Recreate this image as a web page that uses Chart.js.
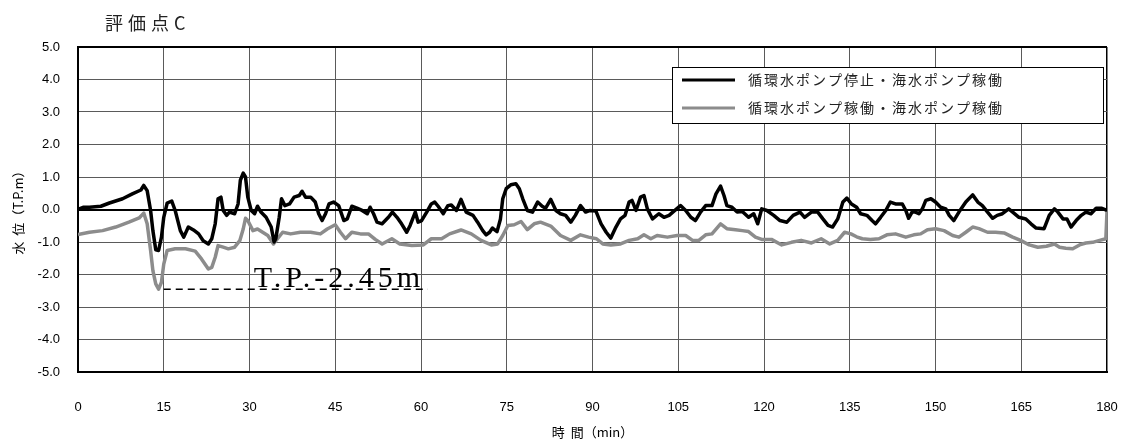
<!DOCTYPE html>
<html>
<head>
<meta charset="utf-8">
<script src="https://cdn.jsdelivr.net/npm/chart.js@4.4.1/dist/chart.umd.min.js"></script>
<style>
  html, body { margin: 0; padding: 0; background: #fff; }
  #wrap { width: 1129px; height: 442px; position: relative; }
</style>
</head>
<body>
<div id="wrap"><canvas id="chart"></canvas></div>
<script>
// 評価点C  water level (T.P.m) vs time (min)
const chartTitle = '評価点C';
const seriesNames = ['循環水ポンプ停止・海水ポンプ稼働', '循環水ポンプ稼働・海水ポンプ稼働'];
const xTitle = '時  間（min）';
const yTitle = '水  位（T.P.m）';
const minLevelLabel = 'T.P.-2.45m';
const minLevel = -2.45;
const minLevelSpan = [15, 61.2];

// [time, level]
const pumpStopped = [
  [0,0.0],[1,0.07],[2,0.07],[4,0.1],[5.5,0.2],[7.8,0.33],[9.5,0.48],[11,0.6],[11.5,0.74],[12.1,0.58],
  [12.7,-0.03],[13.1,-0.65],[13.6,-1.24],[14.1,-1.26],[14.6,-0.85],[15,-0.24],[15.6,0.2],[16.4,0.26],[17,-0.03],[17.9,-0.65],
  [18.5,-0.85],[19.3,-0.54],[20.2,-0.63],[21.1,-0.75],[21.9,-0.96],[22.8,-1.06],[23.4,-0.9],[24,-0.44],[24.5,0.33],[25,0.38],
  [25.4,-0.03],[26,-0.18],[26.5,-0.08],[27.4,-0.13],[28,0.17],[28.4,0.9],[28.9,1.12],[29.3,1.0],[29.7,0.38],[30.3,-0.03],
  [30.9,-0.13],[31.4,0.1],[32,-0.08],[32.9,-0.24],[33.8,-0.54],[34.3,-1.0],[34.6,-0.9],[35.2,-0.24],[35.6,0.33],[36.2,0.12],
  [37,0.17],[37.8,0.38],[38.7,0.43],[39.2,0.56],[39.8,0.38],[40.7,0.38],[41.5,0.23],[42.1,-0.13],[42.7,-0.34],[43.3,-0.13],
  [43.9,0.17],[44.7,0.23],[45.6,0.12],[46.5,-0.34],[47.1,-0.29],[47.9,0.1],[48.8,0.04],[49.7,-0.03],[50.6,-0.13],[51.1,0.07],
  [51.7,-0.13],[52.3,-0.39],[53.2,-0.44],[54.3,-0.24],[55,-0.08],[55.8,-0.24],[56.6,-0.44],[57.5,-0.7],[58.1,-0.49],[59,-0.08],
  [59.5,-0.39],[60.1,-0.34],[61,-0.08],[61.8,0.17],[62.4,0.23],[63,0.1],[63.9,-0.13],[64.7,0.12],[65.3,0.14],[66.2,-0.03],
  [67,0.31],[67.9,-0.08],[69.1,-0.18],[69.9,-0.39],[70.8,-0.65],[71.4,-0.78],[72,-0.7],[72.5,-0.57],[73.3,-0.68],[73.9,-0.29],
  [74.3,0.33],[74.9,0.64],[75.7,0.76],[76.6,0.79],[77.2,0.64],[77.8,0.33],[78.6,-0.03],[79.5,-0.08],[80.4,0.23],[81.2,0.1],
  [81.8,0.04],[82.7,0.31],[83.6,-0.03],[84.4,-0.13],[85.3,-0.18],[86.2,-0.39],[87,-0.18],[87.9,0.12],[88.8,-0.08],[89.6,-0.03],
  [90.6,-0.05],[91.5,-0.44],[92.4,-0.7],[93.2,-0.88],[94.1,-0.54],[94.9,-0.29],[95.7,-0.18],[96.4,0.23],[96.9,0.28],[97.6,-0.03],
  [98.4,0.38],[99,0.43],[99.6,0.02],[100.5,-0.29],[101.6,-0.13],[102.5,-0.24],[103.4,-0.18],[104.2,-0.06],[105.4,0.12],[106.3,-0.03],
  [107.2,-0.24],[108,-0.34],[108.9,-0.08],[109.8,0.12],[110.9,0.12],[111.6,0.48],[112.4,0.72],[113,0.43],[113.5,0.12],[114.4,0.07],
  [115.3,-0.08],[116.2,-0.06],[117.3,-0.24],[118.2,-0.13],[118.9,-0.44],[119.6,0.02],[120.5,-0.03],[121.7,-0.18],[122.8,-0.34],[124,-0.39],
  [125.1,-0.18],[126.3,-0.08],[127.1,-0.24],[128.3,-0.08],[129.4,-0.08],[130.3,-0.29],[131.2,-0.49],[132,-0.54],[132.9,-0.29],[133.8,0.23],
  [134.5,0.35],[135.3,0.17],[136.2,0.07],[136.9,-0.13],[138,-0.18],[138.9,-0.34],[139.5,-0.44],[140.4,-0.24],[141.3,-0.03],[142.1,0.23],
  [143,0.17],[144.2,0.17],[144.8,-0.03],[145.3,-0.27],[145.9,-0.08],[146.5,-0.08],[147.1,-0.13],[147.7,0.02],[148.3,0.28],[149.2,0.33],
  [150,0.23],[150.9,0.07],[151.8,0.02],[152.4,-0.18],[153.2,-0.34],[154.1,-0.08],[155.3,0.23],[156.5,0.45],[157.4,0.23],[158.2,0.12],
  [159.1,-0.08],[160,-0.27],[160.8,-0.18],[161.7,-0.13],[162.8,0.02],[163.5,-0.08],[164.6,-0.24],[165.8,-0.29],[166.7,-0.44],[167.6,-0.57],
  [169,-0.59],[169.9,-0.18],[170.8,0.02],[171.4,-0.08],[172.3,-0.29],[173,-0.29],[173.7,-0.54],[174.6,-0.34],[175.5,-0.18],[176.3,-0.08],
  [177.2,-0.13],[178.1,0.04],[179,0.04],[180,-0.03]
];

const pumpRunning = [
  [0,-0.77],[2,-0.7],[4.3,-0.65],[6.6,-0.54],[8.9,-0.39],[10.7,-0.26],[11.5,-0.11],[12.1,-0.44],[12.7,-1.26],[13.1,-1.88],
  [13.6,-2.29],[14.1,-2.45],[14.6,-2.24],[15,-1.68],[15.6,-1.26],[17,-1.21],[18.8,-1.21],[20.5,-1.28],[21.6,-1.52],[22.8,-1.83],
  [23.4,-1.78],[24,-1.47],[24.5,-1.11],[25.4,-1.16],[26.3,-1.21],[27.4,-1.16],[28.3,-0.96],[28.9,-0.6],[29.3,-0.27],[29.7,-0.34],
  [30.6,-0.65],[31.4,-0.6],[32.3,-0.7],[33.2,-0.8],[34.2,-1.06],[34.9,-0.9],[35.8,-0.7],[37.2,-0.75],[38.9,-0.7],[40.7,-0.7],
  [42.4,-0.75],[43.6,-0.6],[45,-0.47],[45.9,-0.7],[46.8,-0.9],[47.9,-0.7],[49.4,-0.75],[50.8,-0.75],[52,-0.92],[53.2,-1.06],
  [54.9,-0.9],[56.3,-1.06],[58.4,-1.11],[60.4,-1.09],[61.8,-0.9],[63.6,-0.9],[65,-0.75],[67,-0.63],[68.8,-0.75],[70.5,-0.95],
  [72.3,-1.09],[73.4,-1.06],[74.3,-0.8],[75.2,-0.49],[76.3,-0.47],[77.5,-0.37],[78.6,-0.62],[79.8,-0.44],[80.9,-0.39],[82.7,-0.51],
  [84.4,-0.8],[86.2,-0.95],[87.9,-0.78],[89.3,-0.85],[90.7,-0.9],[91.8,-1.06],[93.2,-1.09],[94.9,-1.06],[96.4,-0.95],[97.9,-0.9],
  [99,-0.78],[100.2,-0.9],[101.3,-0.8],[103.1,-0.85],[104.8,-0.8],[106.3,-0.8],[107.5,-0.95],[108.6,-0.95],[109.8,-0.78],[110.9,-0.75],
  [112.4,-0.44],[113.5,-0.59],[115,-0.62],[116.2,-0.65],[117.3,-0.68],[118.5,-0.85],[119.6,-0.92],[121.3,-0.92],[123.1,-1.09],[124.8,-1.01],
  [126.5,-0.95],[128.3,-1.03],[130,-0.9],[131.5,-1.06],[132.9,-0.95],[134.1,-0.7],[135.2,-0.75],[136.2,-0.84],[137.2,-0.9],[138.6,-0.92],
  [140.1,-0.9],[141.5,-0.78],[143,-0.75],[144.8,-0.85],[146.2,-0.78],[147.4,-0.75],[148.6,-0.62],[150,-0.59],[151.5,-0.65],[153,-0.8],
  [154.1,-0.85],[155.3,-0.7],[156.5,-0.54],[157.6,-0.59],[159.1,-0.7],[160.5,-0.7],[162,-0.72],[163.5,-0.85],[164.9,-0.95],[166.4,-1.09],
  [167.9,-1.16],[169.4,-1.13],[170.8,-1.06],[171.7,-1.16],[172.8,-1.19],[174,-1.21],[175.2,-1.09],[176.3,-1.03],[177.5,-1.01],[178.7,-0.95],
  [179.8,-0.9],[180,-0.05]
];

const xRange = [0, 180, 15];
const yRange = [-5, 5, 1];

const seriesColors = ['#000000', '#8c8c8c'];
const sansJP = '"Noto Sans CJK JP", sans-serif';
const tickFont = { family: '"Liberation Sans", Arial, sans-serif', size: 13 };

const toXY = (pts) => pts.map(([x, y]) => ({ x, y }));

// title, legend box and the T.P. label are drawn by hand
const extras = {
  id: 'extras',
  afterDraw(chart) {
    const ctx = chart.ctx;
    ctx.save();
    ctx.fillStyle = '#222';
    ctx.font = `18px ${sansJP}`;
    ctx.textBaseline = 'middle';
    ctx.letterSpacing = '5px';
    ctx.fillText(chartTitle, 105, 23);
    ctx.restore();

    ctx.save();
    const xs = chart.scales.x, ys = chart.scales.y;
    ctx.font = '30px "Liberation Serif", "DejaVu Serif", serif';
    ctx.fillStyle = '#000';
    ctx.textBaseline = 'alphabetic';
    ctx.letterSpacing = '4px';
    ctx.fillText(minLevelLabel, xs.getPixelForValue(15) + 90, ys.getPixelForValue(minLevel) - 2);
    ctx.restore();

    // legend
    ctx.save();
    const bx = 672, by = 67, bw = 431, bh = 56;
    ctx.fillStyle = '#fff';
    ctx.fillRect(bx, by, bw, bh);
    ctx.strokeStyle = '#000';
    ctx.lineWidth = 1;
    ctx.strokeRect(bx + 0.5, by + 0.5, bw, bh);
    ctx.font = `14px ${sansJP}`;
    ctx.textBaseline = 'middle';
    ctx.letterSpacing = '2px';
    seriesNames.forEach((name, i) => {
      const y = by + 13 + i * 28;
      ctx.strokeStyle = seriesColors[i];
      ctx.lineWidth = 3;
      ctx.beginPath();
      ctx.moveTo(bx + 10, y);
      ctx.lineTo(bx + 63, y);
      ctx.stroke();
      ctx.fillStyle = '#222';
      ctx.fillText(name, bx + 76, y);
    });
    ctx.restore();
  }
};

new Chart(document.getElementById('chart'), {
  type: 'line',
  data: {
    datasets: [
      { label: seriesNames[0], data: toXY(pumpStopped), borderColor: seriesColors[0], borderWidth: 3.5, pointRadius: 0, tension: 0, borderJoinStyle: 'round' },
      { label: seriesNames[1], data: toXY(pumpRunning), borderColor: seriesColors[1], borderWidth: 3.5, pointRadius: 0, tension: 0, borderJoinStyle: 'round' },
      { label: minLevelLabel, data: minLevelSpan.map((x) => ({ x, y: minLevel })), borderColor: '#000', borderWidth: 1.5, borderDash: [7, 5], pointRadius: 0 },
    ],
  },
  options: {
    responsive: true,
    maintainAspectRatio: false,
    animation: false,
    layout: { padding: { top: 47, right: 22, left: 0, bottom: 0 } },
    plugins: { legend: { display: false }, tooltip: { enabled: false }, title: { display: false } },
    scales: {
      x: {
        type: 'linear', min: xRange[0], max: xRange[1],
        afterFit: (s) => { s.height = 70; s.paddingRight = 0; s.paddingLeft = 0; },
        ticks: { stepSize: xRange[2], color: '#000', font: tickFont, padding: 28, maxRotation: 0 },
        grid: {
          drawTicks: false,
          color: (c) => (c.tick && (c.tick.value === 0 || c.tick.value === 180) ? '#000' : '#5a5a5a'),
          lineWidth: (c) => (c.tick && c.tick.value === 180 ? 1.5 : 1),
        },
        border: { display: true, color: '#000', width: 2 },
        title: { display: true, text: xTitle, color: '#000', font: { family: sansJP, size: 13 }, padding: { top: 0, bottom: 2 } },
      },
      y: {
        min: yRange[0], max: yRange[1],
        afterFit: (s) => { s.width = 78; },
        ticks: { stepSize: yRange[2], color: '#000', font: tickFont, padding: 18, callback: (v) => Number(v).toFixed(1) },
        grid: {
          drawTicks: false,
          color: (c) => (c.tick && (c.tick.value === 0 || c.tick.value === 5) ? '#000' : '#5a5a5a'),
          lineWidth: (c) => (c.tick && (c.tick.value === 0 || c.tick.value === 5) ? 2 : 1),
        },
        border: { display: true, color: '#000', width: 2 },
        title: { display: true, text: yTitle, color: '#000', font: { family: sansJP, size: 13 }, padding: { top: 10, bottom: 0 } },
      },
    },
  },
  plugins: [extras],
});
</script>
</body>
</html>
